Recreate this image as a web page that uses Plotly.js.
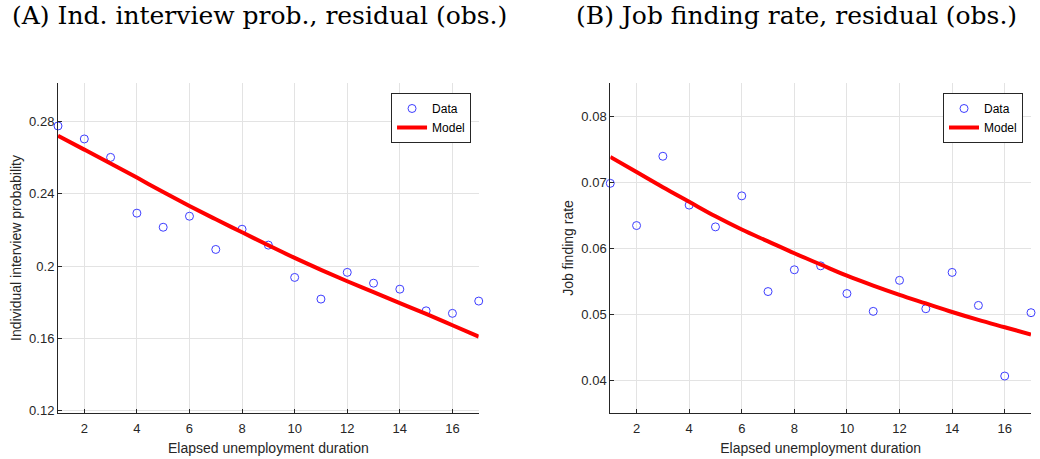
<!DOCTYPE html>
<html>
<head>
<meta charset="utf-8">
<script src="https://cdn.plot.ly/plotly-3.0.1.min.js"></script>
<style>html,body{margin:0;padding:0;background:#fff;}#chart{width:1040px;height:459px;}</style>
</head>
<body>
<div id="chart"></div>
<script>
// Elapsed unemployment duration
const duration = [1,2,3,4,5,6,7,8,9,10,11,12,13,14,15,16,17];

// Panel A: individual interview probability
const interviewData  = [0.2776,0.2704,0.2602,0.2293,0.2215,0.2276,0.2092,0.2204,0.2116,0.1937,0.1817,0.1965,0.1905,0.1872,0.1752,0.1738,0.1806];
const interviewModel = [0.2722,0.2645,0.2568,0.2490,0.2410,0.2333,0.2259,0.2187,0.2115,0.2045,0.1979,0.1916,0.1856,0.1795,0.1735,0.1672,0.1609];

// Panel B: job finding rate
const jobData  = [0.0698,0.0634,0.0739,0.0665,0.0632,0.0679,0.0534,0.0567,0.0573,0.0531,0.0504,0.0551,0.0508,0.0563,0.0513,0.0406,0.0502];
const jobModel = [0.0738,0.0715,0.0692,0.0670,0.0648,0.0628,0.0610,0.0592,0.0575,0.0558,0.0543,0.0529,0.0516,0.0503,0.0491,0.0480,0.0469];

// Tick labels
const xTicks = [2,4,6,8,10,12,14,16];
const yTicksA = [0.12,0.16,0.2,0.24,0.28];
const yTickTextA = ["0.12","0.16","0.2","0.24","0.28"];
const yTicksB = [0.04,0.05,0.06,0.07,0.08];
const yTickTextB = ["0.04","0.05","0.06","0.07","0.08"];

const titleA = "(A) Ind. interview prob., residual (obs.)";
const titleB = "(B) Job finding rate, residual (obs.)";
const xLabel = "Elapsed unemployment duration";
const yLabelA = "Individual interview probability";
const yLabelB = "Job finding rate";

const dark = "#262626";
const gridc = "#e3e3e3";
const markerStyle = {symbol:"circle-open", size:8, color:"#3d3dff", line:{width:1, color:"#3d3dff"}};
const lineStyle = {color:"#ff0000", width:4, shape:"spline"};

const traces = [
  {x:duration, y:interviewData, type:"scatter", mode:"markers", name:"Data", marker:markerStyle, cliponaxis:false, xaxis:"x", yaxis:"y", legend:"legend"},
  {x:duration, y:interviewModel, type:"scatter", mode:"lines", name:"Model", line:lineStyle, xaxis:"x", yaxis:"y", legend:"legend"},
  {x:duration, y:jobData, type:"scatter", mode:"markers", name:"Data", marker:markerStyle, cliponaxis:false, xaxis:"x2", yaxis:"y2", legend:"legend2"},
  {x:duration, y:jobModel, type:"scatter", mode:"lines", name:"Model", line:lineStyle, xaxis:"x2", yaxis:"y2", legend:"legend2"}
];

const axFont = {family:"Liberation Sans, Arial, sans-serif", size:13, color:dark};
function xAxis(domain, anchor){
  return {domain:domain, anchor:anchor, range:[1,17], tickvals:xTicks, ticktext:xTicks.map(String),
    showgrid:true, gridcolor:gridc, zeroline:false, showline:true, linecolor:dark, linewidth:1,
    ticks:"inside", ticklen:4, tickcolor:dark, tickfont:axFont, ticklabelstandoff:3,
    title:{text:xLabel, font:{family:"Liberation Sans, Arial, sans-serif", size:14, color:dark}, standoff:8}};
}
function yAxis(domain, anchor, range, vals, text, label){
  return {domain:domain, anchor:anchor, range:range, tickvals:vals, ticktext:text,
    showgrid:true, gridcolor:gridc, zeroline:false, showline:true, linecolor:dark, linewidth:1,
    ticks:"inside", ticklen:4, tickcolor:dark, tickfont:axFont,
    title:{text:label, font:{family:"Liberation Sans, Arial, sans-serif", size:14, color:dark}, standoff:4}};
}
const legendStyle = {bgcolor:"#ffffff", bordercolor:dark, borderwidth:1,
  font:{family:"Liberation Sans, Arial, sans-serif", size:12, color:"#000"},
  xanchor:"right", yanchor:"top", tracegroupgap:0, itemwidth:30};

const layout = {
  width:1040, height:459,
  margin:{l:58, r:9, t:83, b:46},
  paper_bgcolor:"#ffffff", plot_bgcolor:"#ffffff",
  showlegend:true,
  xaxis: xAxis([0,0.4324],"y"),
  yaxis: yAxis([0,1],"x",[0.1186,0.3014],yTicksA,yTickTextA,yLabelA),
  xaxis2: xAxis([0.5676,1],"y2"),
  yaxis2: yAxis([0,1],"x2",[0.035,0.085],yTicksB,yTickTextB,yLabelB),
  legend: Object.assign({x:0.4245, y:0.9697}, legendStyle),
  legend2: Object.assign({x:0.9918, y:0.9697}, legendStyle),
  annotations:[
    {text:titleA, xref:"paper", yref:"paper", x:0.2066, y:1.206, xanchor:"center", yanchor:"middle", showarrow:false,
     font:{family:"DejaVu Serif, serif", size:25, color:"#000"}},
    {text:titleB, xref:"paper", yref:"paper", x:0.7585, y:1.206, xanchor:"center", yanchor:"middle", showarrow:false,
     font:{family:"DejaVu Serif, serif", size:25, color:"#000"}}
  ]
};

Plotly.newPlot("chart", traces, layout, {displayModeBar:false, staticPlot:true});
</script>
</body>
</html>
